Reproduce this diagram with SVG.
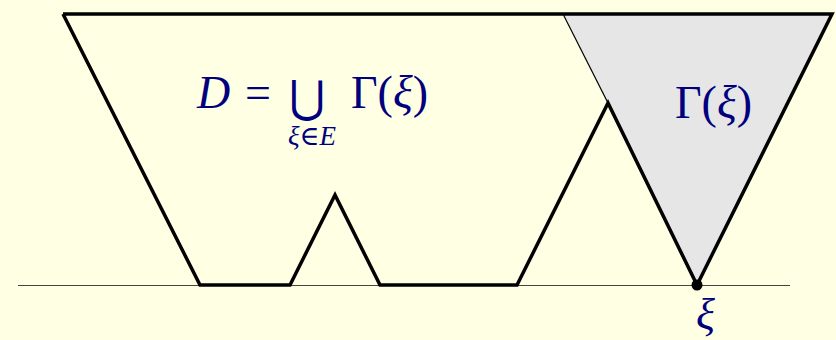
<svg xmlns="http://www.w3.org/2000/svg" width="836" height="340" viewBox="0 0 836 340">
<style>
.t{font-family:"Liberation Serif","DejaVu Serif",serif;fill:#00007f}
.i{font-style:italic}
.thick{fill:none;stroke:#000;stroke-width:3.5;stroke-linejoin:miter}
</style>
<rect width="836" height="340" fill="#ffffe3"/>
<g id="cone">
<polygon points="563,14 832,14 697,285" fill="#e6e6e6"/>
<line x1="563" y1="14" x2="608" y2="103" stroke="#000" stroke-width="1.2"/>
</g>
<g id="axis">
<line x1="18" y1="285.5" x2="790" y2="285.5" stroke="#444" stroke-width="1.2"/>
</g>
<g id="region">
<polyline class="thick" points="63,14 832,14 697,285 608,103 517,285 380,285 335,195 290,285 200,285 63,14"/>
</g>
<g id="point">
<circle cx="697" cy="285" r="5.5" fill="#000"/>
<text class="t i" x="696" y="329" font-size="44">ξ</text>
</g>
<g id="labels">
<text class="t" x="197" y="108" font-size="46"><tspan class="i">D</tspan><tspan x="245">=</tspan></text>
<text class="t" x="289" y="112" font-size="44">⋃</text>
<text class="t" x="351" y="108" font-size="46">Γ(<tspan class="i">ξ</tspan>)</text>
<text class="t i" x="288" y="145" font-size="27">ξ∈E</text>
<text class="t" x="675" y="118" font-size="46">Γ(<tspan class="i">ξ</tspan>)</text>
</g>
</svg>
